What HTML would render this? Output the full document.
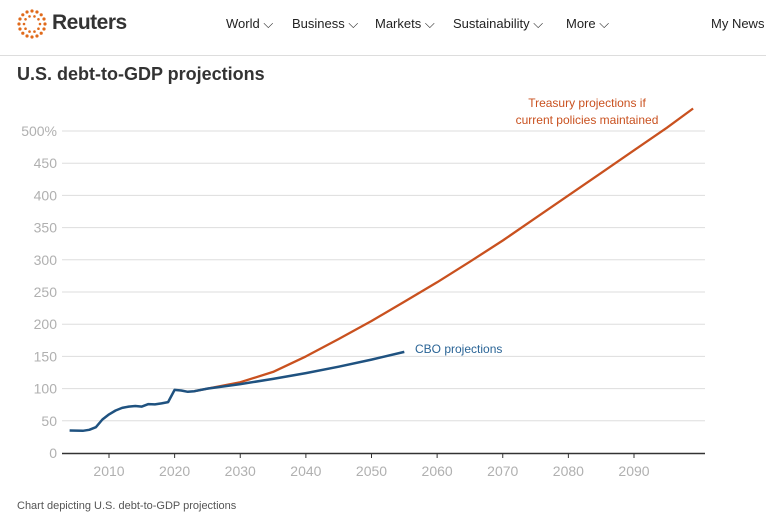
<!DOCTYPE html>
<html><head><meta charset="utf-8"><style>
body{margin:0;width:766px;height:523px;background:#fff;font-family:"Liberation Sans",sans-serif;overflow:hidden;position:relative}
.hdr{position:absolute;left:0;top:0;width:766px;height:55px;border-bottom:1px solid #ddd}
.nav{position:absolute;top:16px;font-size:13px;color:#222}
</style></head><body>
<div class="hdr">
<svg style="position:absolute;left:14px;top:8px" width="36" height="32" viewBox="0 0 36 32">
<g fill="#e06a1b" id="dots"></g></svg>
<div style="position:absolute;left:52px;top:11px;font-size:21px;font-weight:bold;color:#333;letter-spacing:-0.5px">Reuters</div>
<div class="nav" style="left:226px">World ⌵</div>
<div class="nav" style="left:292px">Business ⌵</div>
<div class="nav" style="left:375px">Markets ⌵</div>
<div class="nav" style="left:453px">Sustainability ⌵</div>
<div class="nav" style="left:566px">More ⌵</div>
<div class="nav" style="left:711px">My News</div>
</div>
<div style="position:absolute;left:17px;top:64px;font-size:18px;font-weight:bold;color:#333">U.S. debt-to-GDP projections</div>
<svg id="c" style="position:absolute;left:0;top:0" width="766" height="523"></svg>
<div style="position:absolute;left:17px;top:500px;font-size:11px;color:#555">Chart depicting U.S. debt-to-GDP projections</div>
<script>
var d=document.getElementById('dots'),s='';
for(var i=0;i<16;i++){var a=i/16*2*Math.PI;s+='<circle cx="'+(18+13*Math.cos(a))+'" cy="'+(16+13*Math.sin(a))+'" r="1.6"/>';}
for(var i=0;i<10;i++){var a=i/10*2*Math.PI;s+='<circle cx="'+(18+8*Math.cos(a))+'" cy="'+(16+8*Math.sin(a))+'" r="1.3"/>';}
d.innerHTML=s;
function X(y){return 109+(y-2010)*6.5625}function Y(v){return 453-v*0.644}
var h='';
for(var v=50;v<=500;v+=50){h+='<line x1="62" x2="705" y1="'+Y(v)+'" y2="'+Y(v)+'" stroke="#ddd" stroke-width="1"/>';
h+='<text x="57" y="'+(Y(v)+5)+'" text-anchor="end" font-size="14" fill="#b0b0b0">'+(v==500?'500%':v)+'</text>';}
h+='<text x="57" y="458" text-anchor="end" font-size="14" fill="#b0b0b0">0</text>';
h+='<line x1="62" x2="705" y1="453.5" y2="453.5" stroke="#333" stroke-width="1.5"/>';
for(var y=2010;y<=2090;y+=10){h+='<line x1="'+X(y)+'" x2="'+X(y)+'" y1="453" y2="458" stroke="#333"/><text x="'+X(y)+'" y="476" text-anchor="middle" font-size="14" fill="#b0b0b0">'+y+'</text>';}
var o=[[2023,96],[2025,100],[2030,110],[2035,126],[2040,150],[2045,177],[2050,205],[2055,235],[2060,265],[2065,297],[2070,330],[2075,365],[2080,400],[2085,435],[2090,470],[2095,505],[2099,535]];
var b=[[2004,35],[2006,34.5],[2007,36],[2008,40],[2009,52],[2010,60],[2011,66],[2012,70],[2013,72],[2014,73],[2015,72],[2016,76],[2017,75.5],[2018,77],[2019,79],[2020,98],[2021,97],[2022,95],[2023,96],[2025,100],[2030,107],[2035,115],[2040,124],[2045,134],[2050,145],[2055,157]];
function p(a){return a.map(function(q,i){return(i?'L':'M')+X(q[0]).toFixed(1)+' '+Y(q[1]).toFixed(1)}).join(' ')}
h+='<path d="'+p(o)+'" fill="none" stroke="#c9511f" stroke-width="2.3" stroke-linejoin="round"/>';
h+='<path d="'+p(b)+'" fill="none" stroke="#1f5280" stroke-width="2.5" stroke-linejoin="round"/>';
h+='<text x="415" y="353" font-size="12" fill="#2a6496">CBO projections</text>';
h+='<text x="587" y="107" text-anchor="middle" font-size="12" fill="#c9511f">Treasury projections if</text>';
h+='<text x="587" y="124" text-anchor="middle" font-size="12" fill="#c9511f">current policies maintained</text>';
document.getElementById('c').innerHTML=h;
</script>
</body></html>
